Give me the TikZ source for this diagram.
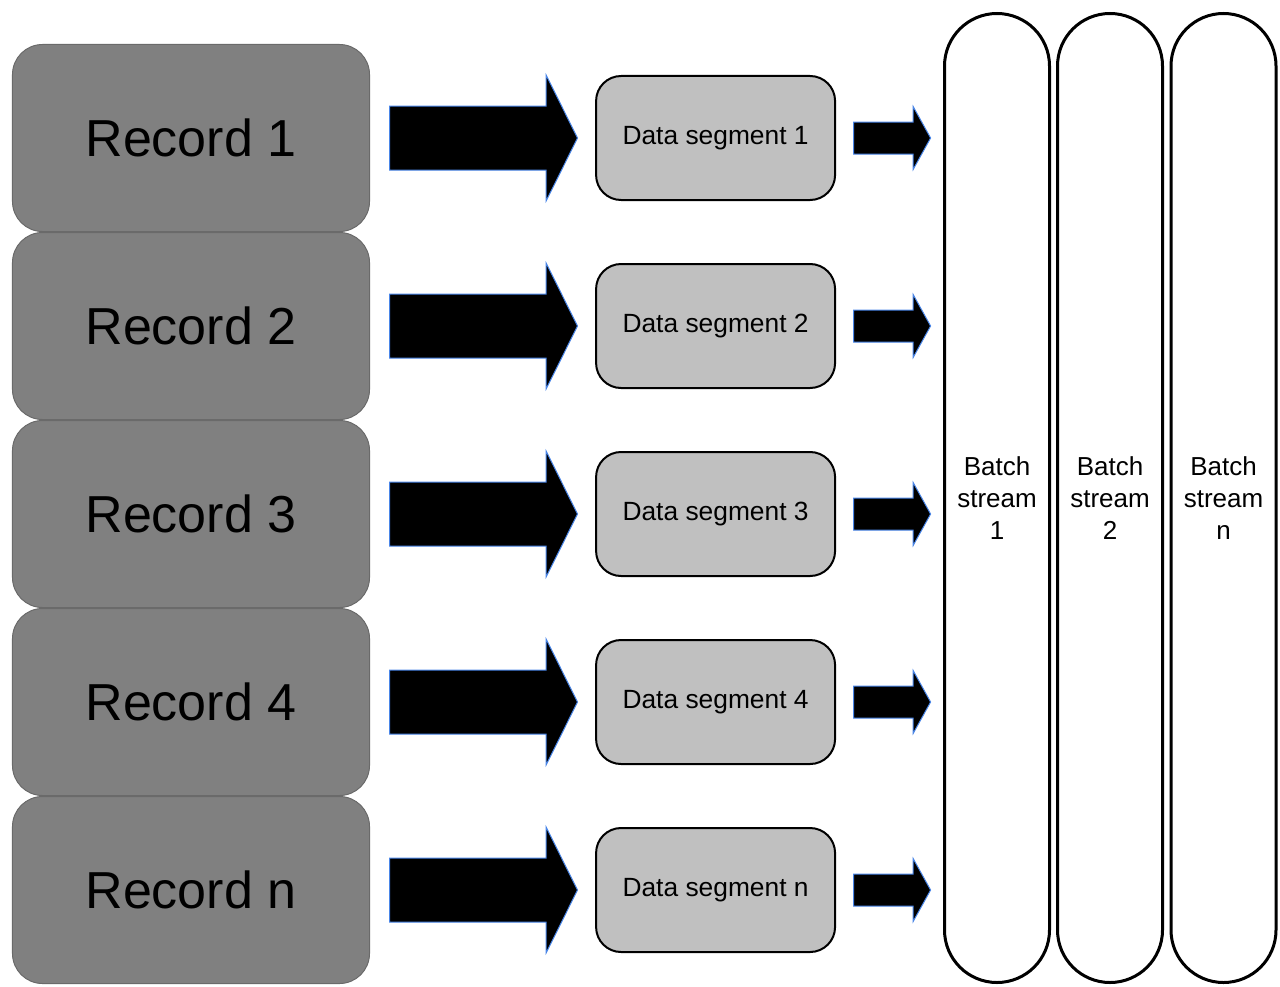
\documentclass[tikz,border=0pt]{standalone}
\usepackage{fontspec}
\setmainfont{Liberation Sans}
\usetikzlibrary{positioning, shapes.arrows}
\definecolor{recgray}{HTML}{808080}
\definecolor{recedge}{HTML}{6A6A6A}
\definecolor{seggray}{HTML}{C0C0C0}
\definecolor{arrowblue}{HTML}{4A86E8}

\begin{document}
\begin{tikzpicture}[x=0.2mm, y=-0.2mm,
    node distance=3.4mm,
    record/.style={rectangle, draw=recedge, fill=recgray, line width=0.2mm, rounded corners=6mm, minimum width=71.4mm, minimum height=37.4mm, inner sep=0pt, font=\fontsize{29.6}{34}\selectfont},
    segment/.style={rectangle, draw, line width=0.4mm, fill=seggray, rounded corners=5mm, minimum width=47.8mm, minimum height=24.8mm, inner sep=0pt, font=\fontsize{15}{18}\selectfont},
    bigarrow/.style={single arrow, draw=arrowblue, fill=black, line width=0.2mm, inner xsep=0pt, inner ysep=6.3mm, minimum height=37.6mm, minimum width=25mm, single arrow head extend=6.2mm, single arrow tip angle=127},
    smallarrow/.style={single arrow, draw=arrowblue, fill=black, line width=0.2mm, inner xsep=0pt, inner ysep=3.1mm, minimum height=15.4mm, minimum width=12.4mm, single arrow head extend=3.1mm, single arrow tip angle=122},
    stream/.style={rectangle, draw, line width=0.6mm, rounded corners=10.5mm, minimum width=21mm, minimum height=193.8mm, inner sep=0pt, align=center, font=\fontsize{14.8}{18.2}\selectfont}]
    \useasboundingbox (0,0) rectangle (1280,987);
    % Records
    \node[record] (rec1) at (191,138) {Record 1};
    \node[record, below=0mm of rec1] (rec2) {Record 2};
    \node[record, below=0mm of rec2] (rec3) {Record 3};
    \node[record, below=0mm of rec3] (rec4) {Record 4};
    \node[record, below=0mm of rec4] (rec5) {Record n};

    % Big arrows
    \node[bigarrow, right=3.8mm of rec1] (arr1) {};
    \node[bigarrow, right=3.8mm of rec2] (arr2) {};
    \node[bigarrow, right=3.8mm of rec3] (arr3) {};
    \node[bigarrow, right=3.8mm of rec4] (arr4) {};
    \node[bigarrow, right=3.8mm of rec5] (arr5) {};

    % Data segments
    \node[segment, right=of arr1] (seg1) {Data segment 1};
    \node[segment, right=of arr2] (seg2) {Data segment 2};
    \node[segment, right=of arr3] (seg3) {Data segment 3};
    \node[segment, right=of arr4] (seg4) {Data segment 4};
    \node[segment, right=of arr5] (seg5) {Data segment n};

    % Small arrows
    \node[smallarrow, right=of seg1] (sarr1) {};
    \node[smallarrow, right=of seg2] (sarr2) {};
    \node[smallarrow, right=of seg3] (sarr3) {};
    \node[smallarrow, right=of seg4] (sarr4) {};
    \node[smallarrow, right=of seg5] (sarr5) {};

    % Batch streams
    \node[stream] (bs1) at (997,498) {Batch\\stream\\1};
    \node[stream, right=1mm of bs1] (bs2) {Batch\\stream\\2};
    \node[stream, right=1.1mm of bs2] (bs3) {Batch\\stream\\n};
\end{tikzpicture}
\end{document}
